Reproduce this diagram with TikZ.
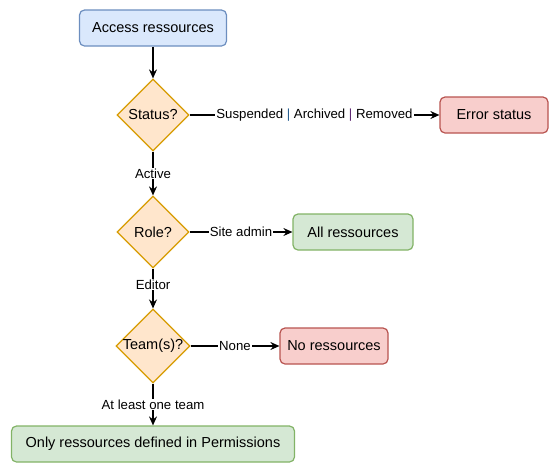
\documentclass[tikz,border=0pt]{standalone}
\usepackage{fontspec}
\setmainfont{Liberation Sans}
\usetikzlibrary{positioning,shapes.geometric,arrows.meta}

\definecolor{bluefill}{HTML}{DAE8FC}
\definecolor{bluedraw}{HTML}{6C8EBF}
\definecolor{orangefill}{HTML}{FFE6CC}
\definecolor{orangedraw}{HTML}{D79B00}
\definecolor{greenfill}{HTML}{D5E8D4}
\definecolor{greendraw}{HTML}{82B366}
\definecolor{redfill}{HTML}{F8CECC}
\definecolor{reddraw}{HTML}{B85450}
\definecolor{pipeone}{RGB}{40,95,145}
\definecolor{pipetwo}{RGB}{95,40,115}

\tikzset{>={Stealth[length=9pt,width=8pt,inset=3pt]}}
\tikzset{
  box/.style={draw, rectangle, rounded corners=5pt, line width=1.2pt, minimum height=36pt, font=\fontsize{14.5}{17}\selectfont},
  decision/.style={draw=orangedraw, fill=orangefill, diamond, aspect=1, inner sep=0pt, minimum width=72pt, minimum height=72pt, line width=1.2pt, font=\fontsize{14.5}{17}\selectfont},
  lbl/.style={fill=white, inner sep=1pt, font=\fontsize{13.2}{15}\selectfont},
  link/.style={->, line width=1.3pt}
}

\begin{document}
\begin{tikzpicture}[x=1pt, y=1pt]
      \useasboundingbox (0,0) rectangle (560,-475);
      \node[box, draw=bluedraw, fill=bluefill, minimum width=147pt] (access) at (153,-28) {Access ressources};
      \node[decision, below of=access, node distance=87pt] (status) {Status?};
      \node[box, draw=reddraw, fill=redfill, right of=status, node distance=341pt, minimum width=108pt] (error) {Error status};
      \node[decision, below of=status, node distance=117pt] (role) {Role?};
      \node[box, draw=greendraw, fill=greenfill, right of=role, node distance=200pt, minimum width=120pt] (allres) {All ressources};
      \node[decision, below of=role, node distance=114pt] (team) {Team(s)?};
      \node[box, draw=reddraw, fill=redfill, right of=team, node distance=181pt, minimum width=108pt] (nores) {No ressources};
      \node[box, draw=greendraw, fill=greenfill, below of=team, node distance=98pt, minimum width=283pt] (only) {Only ressources defined in Permissions};
      \draw[link] (access) -- (status);
      \draw[link] (status) -- node[lbl]{Suspended {\color{pipeone}|} Archived {\color{pipetwo}|} Removed} (error);
      \draw[link] (status) -- node[lbl]{Active} (role);
      \draw[link] (role) -- node[lbl]{Site admin} (allres);
      \draw[link] (role) -- node[lbl, pos=0.4]{Editor} (team);
      \draw[link] (team) -- node[lbl]{None} (nores);
      \draw[link] (team) -- node[lbl]{At least one team} (only);
    \end{tikzpicture}
\end{document}
